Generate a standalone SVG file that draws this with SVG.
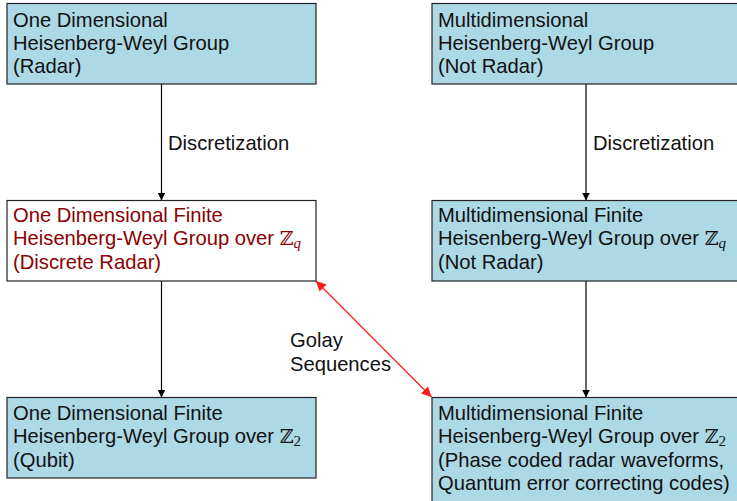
<svg xmlns="http://www.w3.org/2000/svg" width="737" height="501" viewBox="0 0 737 501">
  <defs>
    <style>
      .box { fill: #add8e6; stroke: #222; stroke-width: 1.2; }
      .box-plain { fill: #ffffff; stroke: #222; stroke-width: 1.2; }
      .txt { font-family: "Liberation Sans", Arial, sans-serif; font-size: 20.2px; fill: #111; }
      .red { fill: #8b0000; }
      .bb { font-family: "DejaVu Serif", "Liberation Serif", serif; font-size: 19px; }
      .sub { font-family: "Liberation Serif", serif; font-style: italic; font-size: 15px; }
      .sub-n { font-family: "Liberation Serif", serif; font-size: 15px; }
      .conn { stroke: #000; stroke-width: 1.2; fill: none; }
      .conn-red { stroke: #ff1a1a; stroke-width: 1.2; fill: none; }
    </style>
    <marker id="arr" viewBox="0 0 10 10" refX="10" refY="5" markerWidth="8" markerHeight="8" markerUnits="userSpaceOnUse" orient="auto">
      <path d="M0,0 L10,5 L0,10 z" fill="#000"/>
    </marker>
    <marker id="arr-red" viewBox="0 0 10 10" refX="10" refY="5" markerWidth="10" markerHeight="10" markerUnits="userSpaceOnUse" orient="auto-start-reverse">
      <path d="M0,0 L10,5 L0,10 z" fill="#ff1a1a"/>
    </marker>
  </defs>

  <g id="connectors">
    <line class="conn" x1="161.5" y1="84" x2="161.5" y2="200.5" marker-end="url(#arr)"/>
    <line class="conn" x1="586" y1="84" x2="586" y2="200.5" marker-end="url(#arr)"/>
    <line class="conn" x1="161.5" y1="281" x2="161.5" y2="397.5" marker-end="url(#arr)"/>
    <line class="conn" x1="586" y1="281" x2="586" y2="397.5" marker-end="url(#arr)"/>
    <line class="conn-red" x1="316" y1="281" x2="431.5" y2="397" marker-start="url(#arr-red)" marker-end="url(#arr-red)"/>
    <text class="txt" x="168" y="150">Discretization</text>
    <text class="txt" x="593" y="150">Discretization</text>
    <text class="txt" x="290" y="347">Golay</text>
    <text class="txt" x="290" y="371">Sequences</text>
  </g>

  <g id="hw-1d">
    <rect class="box" x="7" y="3.5" width="309" height="80.5"/>
    <text class="txt" x="13" y="26.5">One Dimensional</text>
    <text class="txt" x="13" y="49.5">Heisenberg-Weyl Group</text>
    <text class="txt" x="13" y="72.5">(Radar)</text>
  </g>

  <g id="hw-multi">
    <rect class="box" x="432" y="3.5" width="309" height="80.5"/>
    <text class="txt" x="438" y="26.5">Multidimensional</text>
    <text class="txt" x="438" y="49.5">Heisenberg-Weyl Group</text>
    <text class="txt" x="438" y="72.5">(Not Radar)</text>
  </g>

  <g id="hw-1d-zq">
    <rect class="box-plain" x="7" y="200.5" width="309" height="80.5"/>
    <text class="txt red" x="13" y="221.5">One Dimensional Finite</text>
    <text class="txt red" x="13" y="245">Heisenberg-Weyl Group over <tspan class="bb">ℤ</tspan><tspan class="sub" dy="3">q</tspan></text>
    <text class="txt red" x="13" y="268.5">(Discrete Radar)</text>
  </g>

  <g id="hw-multi-zq">
    <rect class="box" x="432" y="200.5" width="309" height="80.5"/>
    <text class="txt" x="438" y="221.5">Multidimensional Finite</text>
    <text class="txt" x="438" y="245">Heisenberg-Weyl Group over <tspan class="bb">ℤ</tspan><tspan class="sub" dy="3">q</tspan></text>
    <text class="txt" x="438" y="268.5">(Not Radar)</text>
  </g>

  <g id="hw-1d-z2">
    <rect class="box" x="7" y="397.5" width="309" height="80.5"/>
    <text class="txt" x="13" y="419.5">One Dimensional Finite</text>
    <text class="txt" x="13" y="443">Heisenberg-Weyl Group over <tspan class="bb">ℤ</tspan><tspan class="sub-n" dy="3">2</tspan></text>
    <text class="txt" x="13" y="466.5">(Qubit)</text>
  </g>

  <g id="hw-multi-z2">
    <rect class="box" x="432" y="397.5" width="309" height="110"/>
    <text class="txt" x="438" y="419.5">Multidimensional Finite</text>
    <text class="txt" x="438" y="443">Heisenberg-Weyl Group over <tspan class="bb">ℤ</tspan><tspan class="sub-n" dy="3">2</tspan></text>
    <text class="txt" x="438" y="466.5">(Phase coded radar waveforms,</text>
    <text class="txt" x="438" y="490">Quantum error correcting codes)</text>
  </g>
</svg>
